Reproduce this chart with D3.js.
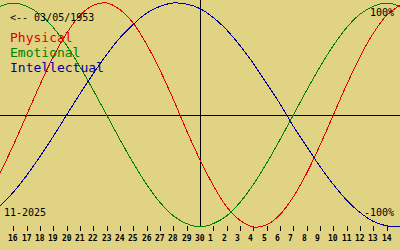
<!DOCTYPE html>
<html>
<head>
<meta charset="utf-8">
<script src="https://cdn.jsdelivr.net/npm/d3@7"></script>
<style>
  body { margin: 0; background: #e1d384; }
  svg { display: block; }
  text { font-family: "DejaVu Sans Mono", monospace; }
</style>
</head>
<body>
<script>
// days shown, offset from the centre day (30 Nov 2025)
const dayOffsets = d3.range(-15, 16);
const dayLabels = [15, 16, 17, 18, 19, 20, 21, 22, 23, 24, 25, 26, 27, 28, 29, 30,
    1, 2, 3, 4, 5, 6, 7, 8, 9, 10, 11, 12, 13, 14, 15];

// values, one per day, -1 .. 1
const physical = [-0.52, -0.27, 0, 0.27, 0.52, 0.73, 0.89, 0.98, 1.0, 0.94, 0.82, 0.63, 0.40, 0.14,
    -0.14, -0.40, -0.63, -0.82, -0.94, -1.0, -0.98, -0.89, -0.73, -0.52, -0.27, 0, 0.27, 0.52, 0.73, 0.89, 0.98];
const emotional = [0.97, 1.0, 0.97, 0.90, 0.78, 0.62, 0.43, 0.22, 0, -0.22, -0.43, -0.62, -0.78, -0.90, -0.97,
    -1.0, -0.97, -0.90, -0.78, -0.62, -0.43, -0.22, 0, 0.22, 0.43, 0.62, 0.78, 0.90, 0.97, 1.0, 0.97];
const intellectual = [-0.81, -0.69, -0.54, -0.37, -0.19, 0, 0.19, 0.37, 0.54, 0.69, 0.81, 0.91, 0.97, 1.0, 0.99,
    0.95, 0.87, 0.76, 0.62, 0.46, 0.28, 0.10, -0.10, -0.28, -0.46, -0.62, -0.76, -0.87, -0.95, -0.99, -1.0];

const seriesNames = ["Physical", "Emotional", "Intellectual"];
const seriesColors = ["#e00000", "#008000", "#0000a0"];
const seriesValues = [physical, emotional, intellectual];

const birthLabel = "<-- 03/05/1953";
const monthLabel = "11-2025";

const chartDimensions = {
    width: 400,
    height: 250,
    plotTop: 3,
    plotBottom: 226
}

let svg = d3.select("body")
    .append("svg")
    .attr("width", chartDimensions.width)
    .attr("height", chartDimensions.height);

const x = d3.scaleLinear()
    .domain([-15, 15])
    .range([0, chartDimensions.width]);
const y = d3.scaleLinear()
    .domain([-1, 1])
    .range([chartDimensions.plotBottom + 1, chartDimensions.plotTop]);

// axes through the centre
svg.append("line")
    .attr("x1", 0)
    .attr("x2", chartDimensions.width)
    .attr("y1", Math.round(y(0)) + 0.5)
    .attr("y2", Math.round(y(0)) + 0.5)
    .style("stroke", "black")
    .style("shape-rendering", "crispEdges");
svg.append("line")
    .attr("x1", x(0) + 0.5)
    .attr("x2", x(0) + 0.5)
    .attr("y1", 0)
    .attr("y2", chartDimensions.plotBottom + 1)
    .style("stroke", "black")
    .style("shape-rendering", "crispEdges");

// day ticks
let ticks = svg.append("g")
    .selectAll("g")
    .data(dayOffsets.map((d, i) => ({offset: d, label: dayLabels[i]})).filter(d => Math.abs(d.offset) < 15))
    .enter()
    .append("g")
    .attr("transform", d => "translate(" + Math.round(x(d.offset)) + ",0)");
ticks.filter(d => d.offset != 0)
    .append("line")
    .attr("x1", 0.5)
    .attr("x2", 0.5)
    .attr("y1", 226)
    .attr("y2", 231)
    .style("stroke", "black")
    .style("shape-rendering", "crispEdges");
ticks.append("text")
    .attr("x", -5)
    .attr("y", 241)
    .style("font-size", "8px")
    .style("font-weight", "bold")
    .text(d => d.label);

// curves, drawn aliased like the original
const line = d3.line()
    .x((d, i) => x(dayOffsets[i]))
    .y(d => y(d))
    .curve(d3.curveCatmullRom);
svg.append("g")
    .selectAll("path")
    .data(seriesValues)
    .enter()
    .append("path")
    .attr("d", d => line(d))
    .style("fill", "none")
    .style("stroke", (d, i) => seriesColors[i])
    .style("stroke-width", 1)
    .style("shape-rendering", "crispEdges");

// labels
svg.append("text")
    .attr("x", 10)
    .attr("y", 21)
    .style("font-size", "10px")
    .text(birthLabel);
svg.append("g")
    .selectAll("text")
    .data(seriesNames)
    .enter()
    .append("text")
    .attr("x", 10)
    .attr("y", (d, i) => 42 + i * 15)
    .style("font-size", "13px")
    .style("fill", (d, i) => seriesColors[i])
    .text(d => d);
svg.append("text")
    .attr("x", 394)
    .attr("y", 16)
    .attr("text-anchor", "end")
    .style("font-size", "10px")
    .text("100%");
svg.append("text")
    .attr("x", 394)
    .attr("y", 216)
    .attr("text-anchor", "end")
    .style("font-size", "10px")
    .text("-100%");
svg.append("text")
    .attr("x", 4)
    .attr("y", 216)
    .style("font-size", "10px")
    .text(monthLabel);
</script>
</body>
</html>
